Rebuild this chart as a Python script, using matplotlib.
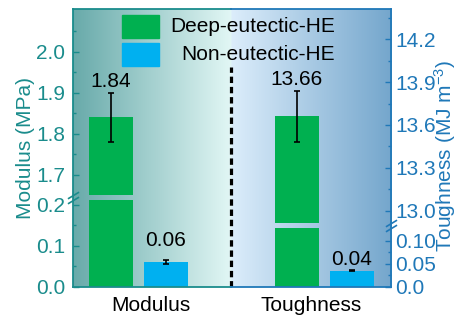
import numpy as np
import matplotlib
matplotlib.use("Agg")
import matplotlib.pyplot as plt
from matplotlib import transforms
from matplotlib.patches import Rectangle
from matplotlib.path import Path

# --- dados ---
categories = ["Modulus", "Toughness"]
series = ["Deep-eutectic-HE", "Non-eutectic-HE"]
modulus = [1.84, 0.06]
modulus_err = [0.06, 0.004]
modulus_text = ["1.84", "0.06"]
toughness = [13.66, 0.035]
toughness_err = [0.18, 0.002]
toughness_text = ["13.66", "0.04"]

left_ticks = [0.0, 0.1, 0.2, 1.7, 1.8, 1.9, 2.0]
left_ticklabels = ["0.0", "0.1", "0.2", "1.7", "1.8", "1.9", "2.0"]
left_minor = [0.05, 0.15, 1.75, 1.85, 1.95, 2.05]
right_ticks = [0.0, 0.05, 0.10, 13.0, 13.3, 13.6, 13.9, 14.2]
right_ticklabels = ["0.0", "0.05", "0.10", "13.0", "13.3", "13.6", "13.9", "14.2"]
right_minor = [0.025, 0.075, 13.15, 13.45, 13.75, 14.05, 14.35]

# --- estilo ---
TEAL = "#1a8c8c"
BLUE_AX = "#1f78b8"
GREEN = "#00b050"
CYAN = "#00b0f0"
plt.rcParams["font.family"] = ["Liberation Sans", "DejaVu Sans"]
plt.rcParams["mathtext.fontset"] = "custom"
plt.rcParams["mathtext.rm"] = "Liberation Sans"
plt.rcParams["mathtext.it"] = "Liberation Sans:italic"
FS = 15

# quebra de eixo: (fim do trecho baixo, inicio do trecho alto, escala baixo, escala alto)
left_break = (0.217, 1.644, 410.0, 411.0)
right_break = (0.1336, 12.895, 456.0, 142.8)


def broken_scale(lo, hi, k_lo, k_hi):
    u0 = lo * k_lo

    def fwd(v):
        v = np.asarray(v, dtype=float)
        return np.where(v <= lo, v * k_lo, u0 + (np.maximum(v, hi) - hi) * k_hi)

    def inv(u):
        u = np.asarray(u, dtype=float)
        return np.where(u <= u0, u / k_lo, hi + (u - u0) / k_hi)

    return fwd, inv


def broken_bars(ax, xs, vals, brk, colors, width):
    lo, hi, k_lo, k_hi = brk
    gap_lo = lo - 2.5 / k_lo
    gap_hi = hi + 2.5 / k_hi
    for x, v, c in zip(xs, vals, colors):
        if v > hi:
            ax.bar(x, gap_lo, width, color=c, zorder=3)
            ax.bar(x, v - gap_hi, width, bottom=gap_hi, color=c, zorder=3)
        else:
            ax.bar(x, v, width, color=c, zorder=3)


def break_marks(ax, xpos, yval, color):
    mk = Path([(-1, -0.6), (1, 0.6)], [Path.MOVETO, Path.LINETO])
    base = ax.get_yaxis_transform()
    for dy in (-1.6, 1.6):
        t = transforms.offset_copy(base, fig=ax.figure, y=dy, units="points")
        ax.plot([xpos], [yval], marker=mk, ms=8, mew=1.2, color=color,
                transform=t, clip_on=False, zorder=10)


fig = plt.figure(figsize=(4.58, 3.23), dpi=100)
ax = fig.add_axes([0.1594, 0.1130, 0.6954, 0.8591])
ax2 = ax.twinx()

x = np.arange(len(categories))
off = 0.148
w = 0.237
xlim = (-0.3526, 1.362)

# fundo em degrade
xfrac = (0.5 - xlim[0]) / (xlim[1] - xlim[0])
cols = np.linspace(0, 1, 600)[:, None]
c0 = np.array([104, 170, 170]) / 255
c1 = np.array([226, 247, 245]) / 255
c2 = np.array([220, 237, 251]) / 255
c3 = np.array([116, 166, 204]) / 255
grad = np.where(cols < xfrac,
                c0 + (c1 - c0) * (cols / xfrac),
                c2 + (c3 - c2) * ((cols - xfrac) / (1 - xfrac)))
ax.imshow(grad[None, :, :], extent=[0, 1, 0, 1], transform=ax.transAxes,
          aspect="auto", zorder=0, interpolation="bilinear")

ax.set_yscale("function", functions=broken_scale(*left_break[:4]))
ax2.set_yscale("function", functions=broken_scale(*right_break[:4]))

# barras
broken_bars(ax, [x[0] - off, x[0] + off], modulus, left_break, [GREEN, CYAN], w)
ax.errorbar([x[0] - off, x[0] + off], modulus, yerr=modulus_err, fmt="none",
            ecolor="black", elinewidth=1.2, capsize=2.5, capthick=1.2, zorder=4)
broken_bars(ax2, [x[1] - off, x[1] + off], toughness, right_break, [GREEN, CYAN], w)
ax2.errorbar([x[1] - off, x[1] + off], toughness, yerr=toughness_err, fmt="none",
             ecolor="black", elinewidth=1.2, capsize=2.5, capthick=1.2, zorder=4)

# rotulos de valor
for xi, v, e, s, pad in zip([x[0] - off, x[0] + off], modulus, modulus_err, modulus_text, [4.3, 10]):
    ax.annotate(s, (xi, v + e), xytext=(0, pad), textcoords="offset points",
                ha="center", va="baseline", fontsize=FS, zorder=6)
for xi, v, e, s, pad in zip([x[1] - off, x[1] + off], toughness, toughness_err, toughness_text, [4.3, 3.4]):
    ax2.annotate(s, (xi, v + e), xytext=(0, pad), textcoords="offset points",
                 ha="center", va="baseline", fontsize=FS, zorder=6)

# linha tracejada central (abaixo da legenda)
ax.axvline(0.5, ymin=0, ymax=0.79, color="black", lw=2.3, ls=(0, (2.0, 1.2)), zorder=2)

ax.set_xlim(*xlim)
ax.set_ylim(0, 2.104)
ax2.set_ylim(0, 14.412)

# no original os nomes ficam um pouco deslocados para o centro
ax.set_xticks(x + np.array([0.067, -0.07]))
ax.set_xticklabels(categories, fontsize=FS)
ax.tick_params(axis="x", length=0, pad=7)

ax.set_yticks(left_ticks)
ax.set_yticklabels(left_ticklabels)
ax.set_yticks(left_minor, minor=True)
ax.tick_params(axis="y", which="both", direction="in", colors=TEAL, labelsize=FS, pad=5.5)
ax.tick_params(axis="y", which="major", length=4.5, width=1)
ax.tick_params(axis="y", which="minor", length=2.5, width=1)
ax.set_ylabel("Modulus (MPa)", color=TEAL, fontsize=FS)
ax.yaxis.set_label_coords(-0.119, 0.5)

ax2.set_yticks(right_ticks)
ax2.set_yticklabels(right_ticklabels)
ax2.set_yticks(right_minor, minor=True)
ax2.tick_params(axis="y", which="both", direction="in", colors=BLUE_AX, labelsize=FS, pad=2.5)
ax2.tick_params(axis="y", which="major", length=4.5, width=1)
ax2.tick_params(axis="y", which="minor", length=2.5, width=1)
ax2.set_ylabel("Toughness (MJ m$^{-3}$)", color=BLUE_AX, fontsize=FS)
ax2.yaxis.set_label_coords(1.128, 0.47)

# eixos: cada metade com sua cor
for a in (ax, ax2):
    for s in ("top", "bottom", "left", "right"):
        a.spines[s].set_visible(False)
ax.spines["left"].set_visible(True)
ax.spines["left"].set_color(TEAL)
ax.spines["left"].set_linewidth(1.3)
ax2.spines["right"].set_visible(True)
ax2.spines["right"].set_color(BLUE_AX)
ax2.spines["right"].set_linewidth(1.3)
for yy in (0, 1):
    ax2.plot([0, xfrac], [yy, yy], color=TEAL, lw=1.3, transform=ax2.transAxes,
             clip_on=False, zorder=9)
    ax2.plot([xfrac, 1], [yy, yy], color=BLUE_AX, lw=1.3, transform=ax2.transAxes,
             clip_on=False, zorder=9)

break_marks(ax, 0, left_break[0], TEAL)
break_marks(ax2, 1, right_break[0], BLUE_AX)

# legenda (texto alinhado a direita, como no original)
for i, (name, c) in enumerate(zip(series, [GREEN, CYAN])):
    y0 = 0.8955 - i * 0.1009
    ax2.add_patch(Rectangle((0.1538, y0), 0.1162, 0.0829, transform=ax2.transAxes,
                            color=c, zorder=8, clip_on=False))
    ax2.text(0.8226, y0 + 0.0415, name, transform=ax2.transAxes, ha="right",
             va="center", fontsize=FS, zorder=8)

fig.savefig("out.png", dpi=100)
